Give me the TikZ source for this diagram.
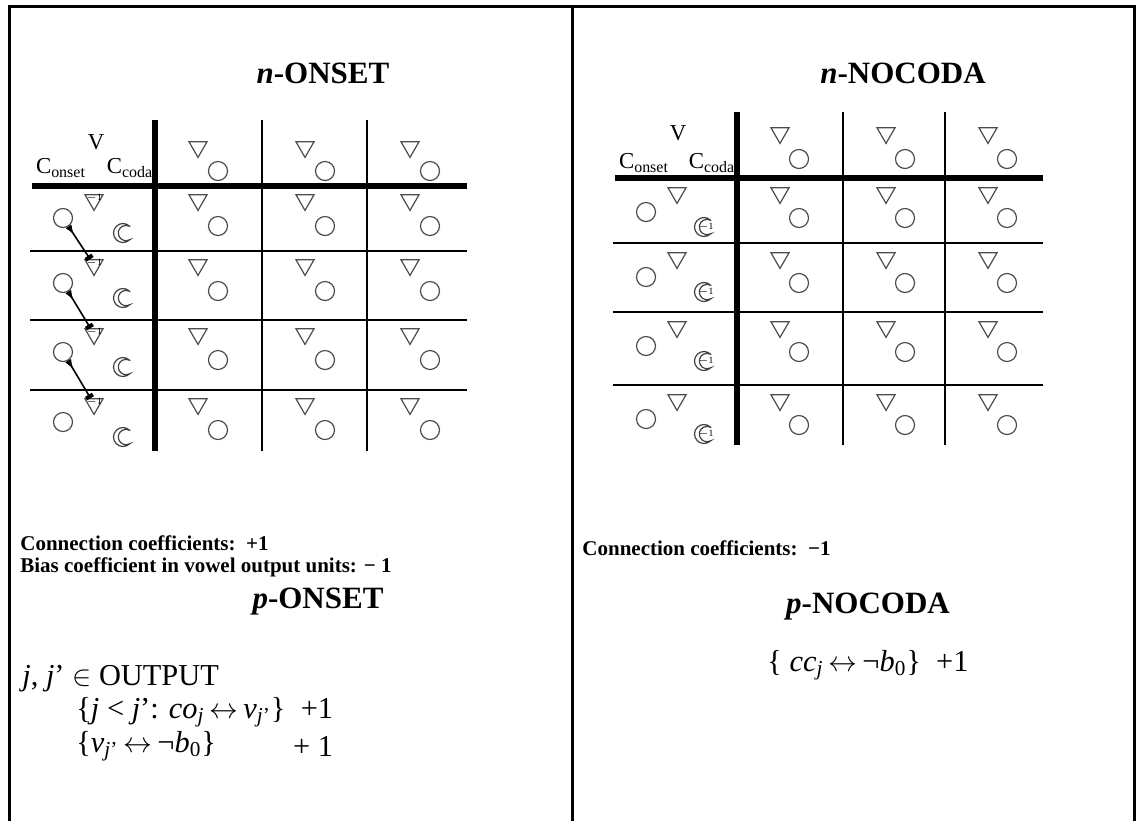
\documentclass[tikz,border=0pt]{standalone}
\usepackage{fontspec}
\setmainfont{Liberation Serif}
\usetikzlibrary{shapes.geometric,arrows.meta}

% outline of a coda unit, drawn round a named node
\newcommand\crescent[1]{%
  \draw[draw=black!75, line width=0.6pt] (#1.center) ++(45:4.75pt)
    arc[start angle=45, end angle=315, radius=4.75pt]
    arc[start angle=-61, end angle=-299, radius=3.84pt] -- cycle;}
\newcommand\lra{\,${\leftrightarrow}$\,}

\begin{document}
\begin{tikzpicture}[x=0.5pt, y=-0.5pt,
  frame/.style={line width=1.5pt},
  heavy/.style={line width=3.2pt},
  rule/.style={line width=1pt},
  vow/.style={regular polygon, regular polygon sides=3, shape border rotate=180,
              draw=black!70, line width=0.6pt, inner sep=0pt, minimum size=10.4pt},
  cons/.style={circle, draw=black!70, line width=0.6pt, inner sep=0pt, minimum size=9.5pt},
  coda/.style={circle, inner sep=0pt, minimum size=9.5pt},
  title/.style={font=\fontsize{15.5}{18}\selectfont\bfseries},
  note/.style={font=\fontsize{10.5}{12}\selectfont\bfseries, anchor=west, inner sep=0pt},
  eq/.style={font=\fontsize{15.2}{18}\selectfont, anchor=west, inner sep=0pt},
  lab/.style={font=\fontsize{11.4}{13}\selectfont, inner sep=0pt},
  bias/.style={font=\fontsize{4.8}{5}\selectfont, inner sep=0pt},
  link/.style={line width=0.8pt,
               {Latex[reversed,length=5pt,width=3.5pt]}-{Square[length=2pt,width=4pt]}}]

\useasboundingbox (0,0) rectangle (1138,821);

% frame
\draw[frame] (9,821) -- (9,6) -- (1134,6) -- (1134,821);
\draw[frame] (572,6) -- (572,821);

% ---- n-ONSET
\node[title] (nons) at (323,73) {\textit{n}-ONSET};
\draw[heavy] (155,120) -- (155,451);
\draw[heavy] (32,186) -- (467,186);
\foreach \y in {251,320,390} \draw[rule] (30,\y) -- (467,\y);
\foreach \x in {262,367} \draw[rule] (\x,120) -- (\x,451);

\node[lab] (lhv) at (96,142) {V};
\node[lab] (lhon) at (61,168) {C\textsubscript{onset}};
\node[lab] (lhcd) at (130,168) {C\textsubscript{coda}};
\foreach \x [count=\i] in {155,262,367} {
  \node[vow] (lv0\i) at (\x+43,147) {};
  \node[cons] (lo0\i) at (\x+63,171) {};
}
\foreach \t [count=\r] in {186,251,320,390} {
  \foreach \x [count=\i] in {155,262,367} {
    \node[vow] (lv\r\i) at (\x+43,\t+14) {};
    \node[cons] (lo\r\i) at (\x+63,\t+40) {};
  }
  \node[vow] (lv\r) at (94,\t+14) {};
  \node[bias] (lb\r) at ([yshift=1.2pt]lv\r.center) {$-$1};
  \node[cons] (lon\r) at (63,\t+32) {};
  \node[coda] (lcc\r) at (123,\t+47) {};
  \crescent{lcc\r}
}
\foreach \r/\s in {1/2,2/3,3/4}
  \draw[link] (lon\r) -- (lv\s);

% ---- n-NOCODA
\node[title] (nnoc) at (903,73) {\textit{n}-NOCODA};
\draw[heavy] (737,112) -- (737,445);
\draw[heavy] (615,178) -- (1043,178);
\foreach \y in {243,312,385} \draw[rule] (613,\y) -- (1043,\y);
\foreach \x in {843,945} \draw[rule] (\x,112) -- (\x,445);

\node[lab] (rhv) at (678,133) {V};
\node[lab] (rhon) at (644,163) {C\textsubscript{onset}};
\node[lab] (rhcd) at (712,163) {C\textsubscript{coda}};
\foreach \x [count=\i] in {737,843,945} {
  \node[vow] (rv0\i) at (\x+43,133) {};
  \node[cons] (ro0\i) at (\x+62,159) {};
}
\foreach \t [count=\r] in {178,243,312,385} {
  \foreach \x [count=\i] in {737,843,945} {
    \node[vow] (rv\r\i) at (\x+43,\t+15) {};
    \node[cons] (ro\r\i) at (\x+62,\t+40) {};
  }
  \node[vow] (rv\r) at (677,\t+15) {};
  \node[cons] (ron\r) at (646,\t+34) {};
  \node[coda] (rcc\r) at (704,\t+49) {};
  \crescent{rcc\r}
  \node[bias] (rb\r) at ([xshift=0.8pt]rcc\r.center) {$-$1};
}

% ---- notes and p-constraints
\node[note] (conl) at (20,543) {Connection coefficients:\ \ +1};
\node[note] (bsl) at (20,567) {Bias coefficient in vowel output units: − 1};
\node[title] (pons) at (318,602) {\textit{p}-ONSET};
\node[eq] (outp) at (22,679) {\textit{j}, \textit{j}’ $\in$ OUTPUT};
\node[eq] (ln1) at (76,712)
  {\{\textit{j} < \textit{j}’: \textit{co}\textsubscript{\textit{j}}\lra\textit{v}\textsubscript{\textit{j}’}\}\ \ +1};
\node[eq] (ln2) at (76,746)
  {\{\textit{v}\textsubscript{\textit{j}’}\lra ¬\textit{b}\textsubscript{0}\}};
\node[eq, anchor=east] (ln2w) at (ln1.east |- ln2.west) {+ 1};

\node[note] (conr) at (582,548) {Connection coefficients:\ \ −1};
\node[title] (pnoc) at (868,607) {\textit{p}-NOCODA};
\node[eq, anchor=center] (ln3) at (868,665)
  {\{ \textit{cc}\textsubscript{\textit{j}}\lra ¬\textit{b}\textsubscript{0}\}\ \ +1};

\end{tikzpicture}
\end{document}
